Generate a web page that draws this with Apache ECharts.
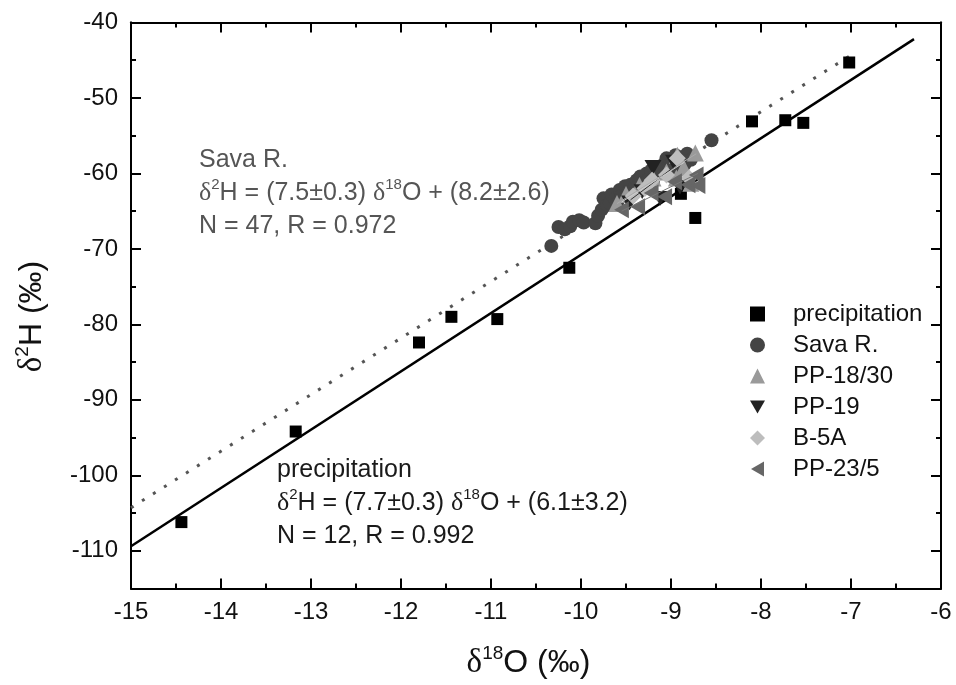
<!DOCTYPE html>
<html><head><meta charset="utf-8">
<script src="https://cdn.jsdelivr.net/npm/echarts@6/dist/echarts.min.js"></script>
<style>html,body{margin:0;padding:0;background:#fff}#c{width:956px;height:685px}</style>
</head><body><div id="c"></div>
<script>
// ---- data ----
const precipX = [-14.44, -13.17, -11.80, -11.44, -10.93, -10.13, -8.89, -8.73, -8.10, -7.73, -7.53, -7.02];
const precipY = [-106.2, -94.2, -82.4, -79.0, -79.3, -72.5, -62.7, -65.9, -53.1, -52.95, -53.3, -45.3];
const savaX = [-10.33, -10.25, -10.18, -10.12, -10.09, -10.02, -9.97, -9.84, -9.81, -9.77, -9.75, -9.71, -9.68, -9.66, -9.62, -9.57, -9.55, -9.51, -9.48, -9.45, -9.41, -9.38, -9.36, -9.34, -9.30, -9.27, -9.25, -9.22, -9.18, -9.15, -9.12, -9.08, -9.05, -9.02, -8.98, -8.95, -8.92, -8.88, -8.85, -8.82, -8.78, -9.60, -9.43, -9.20, -9.00, -8.90, -8.55];
const savaY = [-69.6, -67.1, -67.4, -67.0, -66.4, -66.2, -66.5, -66.6, -65.6, -64.8, -63.3, -64.2, -63.9, -62.8, -63.4, -62.2, -63.0, -61.7, -62.6, -61.5, -62.0, -60.9, -61.6, -60.4, -61.2, -60.0, -60.8, -59.6, -60.3, -59.2, -59.9, -58.8, -58.0, -59.0, -58.4, -57.6, -58.6, -57.9, -58.8, -57.4, -58.2, -64.0, -62.8, -61.0, -59.6, -59.4, -55.6];
const pp1830X = [-8.73, -8.93, -8.86, -9.05, -9.20, -9.35, -9.50, -8.78, -9.60, -8.94];
const pp1830Y = [-57.3, -57.6, -59.2, -59.8, -60.6, -61.6, -62.8, -61.3, -64.0, -60.6];
const pp19X = [-9.20, -8.97, -9.12, -9.46, -9.32, -8.90];
const pp19Y = [-59.2, -58.5, -63.3, -63.9, -62.4, -61.8];
const b5aX = [-9.21, -9.29, -8.93, -9.42, -9.05, -8.80];
const b5aY = [-60.9, -62.0, -58.0, -63.0, -60.2, -60.6];
const pp235X = [-8.81, -8.96, -9.07, -9.37, -8.72, -9.22, -9.55, -8.70];
const pp235Y = [-61.5, -61.1, -63.1, -64.4, -60.2, -62.6, -64.8, -61.6];
// fitted lines (endpoints)
const precipLineX = [-15, -6.3];
const precipLineY = [-109.4, -42.2];
const savaLineX = [-15, -6.93];
const savaLineY = [-104.3, -43.8];
const fit1830X = [-9.6, -8.72], fit1830Y = [-64.0, -57.4];
const fit19X = [-9.45, -8.95], fit19Y = [-63.5, -59.0];
const fitB5X = [-9.55, -8.85], fitB5Y = [-63.8, -58.5];
const fit235X = [-9.55, -8.7], fit235Y = [-65.0, -60.0];
const yMajor = [-110, -100, -90, -80, -70, -60, -50, -40];
const yMinor = [-105, -95, -85, -75, -65, -55, -45];
const legendNames = ['precipitation', 'Sava R.', 'PP-18/30', 'PP-19', 'B-5A', 'PP-23/5'];

const zip = (xs, ys) => xs.map((x, i) => [x, ys[i]]);
const SANS = '"Liberation Sans", Arial, sans-serif';
const SERIF = '"Liberation Serif", "DejaVu Serif", serif';
const DOWN_TRI = 'path://M0,0L10,0L5,8.66Z';
const LEFT_TRI = 'path://M0,5L8.66,0L8.66,10Z';

const titleRich = {
  g: { fontFamily: SERIF, fontSize: 33, color: '#111', lineHeight: 38 },
  s: { fontFamily: SANS, fontSize: 19, color: '#111', verticalAlign: 'top', lineHeight: 22 },
  n: { fontFamily: SANS, fontSize: 32, color: '#111', lineHeight: 38 }
};
const axisLineStyle = { color: '#000', width: 2 };
function xAx(pos, labels) {
  return {
    type: 'value', position: pos, min: -15, max: -6, interval: 1,
    axisLine: { show: true, lineStyle: axisLineStyle },
    axisTick: { show: true, inside: true, length: 10, lineStyle: { color: '#000', width: 2 } },
    minorTick: { show: true, splitNumber: 2, length: 5, lineStyle: { color: '#000', width: 2 } },
    splitLine: { show: false }, minorSplitLine: { show: false },
    axisLabel: { show: labels, margin: 12, fontSize: 24, color: '#111', fontFamily: SANS },
    name: labels ? '{g|δ}{s|18}{n|O (‰)}' : '',
    nameLocation: 'middle', nameGap: 56,
    nameTextStyle: { padding: [0, 15, 0, 0], rich: titleRich }
  };
}
function yAx(pos, major, labels) {
  return {
    type: 'value', position: pos, min: -115, max: -40,
    axisLine: { show: true, lineStyle: axisLineStyle },
    axisTick: { show: true, inside: true, length: major ? 10 : 5, customValues: major ? yMajor : yMinor,
                lineStyle: { color: '#000', width: 2 } },
    splitLine: { show: false },
    axisLabel: { show: labels, customValues: yMajor, margin: 13, fontSize: 24, color: '#111', fontFamily: SANS },
    name: labels ? '{g|δ}{s|2}{n|H (‰)}' : '',
    nameLocation: 'middle', nameGap: 80,
    nameTextStyle: { padding: [0, 22, 0, 0], rich: titleRich }
  };
}

function scatter(name, xs, ys, color, symbol, size) {
  return { name, type: 'scatter', data: zip(xs, ys), symbol, symbolSize: size, symbolKeepAspect: true,
           itemStyle: { color, opacity: 1 }, xAxisIndex: 0, yAxisIndex: 0, z: 3 };
}
function fitLine(xs, ys, color, width, type) {
  return { type: 'line', data: zip(xs, ys), symbol: 'none', silent: true, xAxisIndex: 0, yAxisIndex: 0,
           lineStyle: { color, width, type: type || 'solid' }, z: 2 };
}

const richAnn = (col) => ({
  n: { fontFamily: SANS, fontSize: 25, fill: col, lineHeight: 33 },
  g: { fontFamily: SERIF, fontSize: 26, fill: col, lineHeight: 33 },
  s: { fontFamily: SANS, fontSize: 15, fill: col, verticalAlign: 'top', lineHeight: 20 }
});

const chart = echarts.init(document.getElementById('c'), null, { renderer: 'canvas' });
chart.setOption({
  backgroundColor: '#fff',
  animation: false,
  grid: { left: 131, right: 15, top: 22.5, bottom: 96, containLabel: false },
  xAxis: [xAx('bottom', true), xAx('top', false)],
  yAxis: [yAx('left', true, true), yAx('right', true, false), yAx('right', false, false), yAx('left', false, false)],
  legend: {
    data: legendNames, orient: 'vertical', left: 745, top: 297,
    itemWidth: 15, itemHeight: 15, itemGap: 7, selectedMode: false,
    textStyle: { fontFamily: SANS, fontSize: 24, color: '#111', lineHeight: 24, padding: [0, 0, 0, 23] }
  },
  series: [
    fitLine(precipLineX, precipLineY, '#000', 2.5),
    fitLine(savaLineX, savaLineY, '#555', 3, [3, 10]),
    scatter('precipitation', precipX, precipY, '#000', 'rect', 12),
    scatter('Sava R.', savaX, savaY, '#444', 'circle', 14),
    scatter('PP-18/30', pp1830X, pp1830Y, '#9a9a9a', 'triangle', 17),
    scatter('PP-19', pp19X, pp19Y, '#222', DOWN_TRI, 17),
    scatter('B-5A', b5aX, b5aY, '#bdbdbd', 'diamond', 17),
    scatter('PP-23/5', pp235X, pp235Y, '#666', LEFT_TRI, 17),
    Object.assign(fitLine(fit1830X, fit1830Y, '#aaa', 1), { z: 4 }),
    Object.assign(fitLine(fit19X, fit19Y, '#333', 1), { z: 4 }),
    Object.assign(fitLine(fitB5X, fitB5Y, '#ccc', 1), { z: 4 }),
    Object.assign(fitLine(fit235X, fit235Y, '#777', 1), { z: 4 })
  ],
  graphic: [
    { type: 'text', left: 199, top: 148, z: 10, style: {
        text: '{n|Sava R.}\n{g|δ}{s|2}{n|H = (7.5±0.3) }{g|δ}{s|18}{n|O + (8.2±2.6)}\n{n|N = 47, R = 0.972}',
        rich: richAnn('#555') } },
    { type: 'text', left: 277, top: 458, z: 10, style: {
        text: '{n|precipitation}\n{g|δ}{s|2}{n|H = (7.7±0.3) }{g|δ}{s|18}{n|O + (6.1±3.2)}\n{n|N = 12, R = 0.992}',
        rich: richAnn('#1a1a1a') } }
  ]
});
</script></body></html>
